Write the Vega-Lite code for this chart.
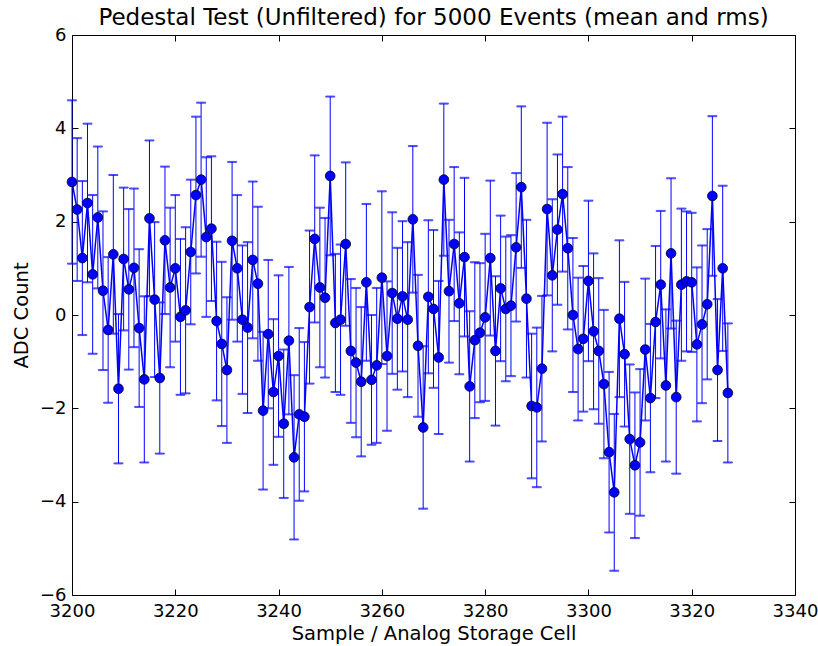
{
  "$schema": "https://vega.github.io/schema/vega-lite/v6.json",
  "width": 723,
  "height": 560,
  "autosize": "none",
  "padding": {"left": 72, "top": 35, "right": 23, "bottom": 51},
  "background": "white",
  "title": {"text": "Pedestal Test (Unfiltered) for 5000 Events (mean and rms)", "font": "DejaVu Sans", "fontSize": 23, "fontWeight": "normal", "color": "black", "offset": -4},
  "config": {
    "view": {"stroke": "black", "strokeWidth": 1},
    "rule": {"color": "#0000ff", "stroke": "#0000ff", "strokeWidth": 1},
    "tick": {"color": "#0000ff", "stroke": "#0000ff"},
    "errorbar": {"rule": {"color": "#0000ff", "stroke": "#0000ff"}, "ticks": {"color": "#0000ff", "stroke": "#0000ff"}},
    "axis": {"labelFont": "DejaVu Sans", "titleFont": "DejaVu Sans", "labelFontSize": 18, "titleFontSize": 19.5, "titleFontWeight": "normal", "labelColor": "black", "titleColor": "black", "tickColor": "black", "domain": false, "grid": false, "tickSize": -6, "tickWidth": 1, "labelFlush": false}
  },
  "data": {"values": [
{"x":3200,"y":2.85,"e":1.75},{"x":3201,"y":2.26,"e":1.53},{"x":3202,"y":1.22,"e":1.65},{"x":3203,"y":2.40,"e":1.70},{"x":3204,"y":0.87,"e":1.70},{"x":3205,"y":2.09,"e":1.52},{"x":3206,"y":0.52,"e":1.70},{"x":3207,"y":-0.32,"e":1.56},{"x":3208,"y":1.30,"e":1.70},{"x":3209,"y":-1.58,"e":1.60},
{"x":3210,"y":1.20,"e":1.53},{"x":3211,"y":0.55,"e":1.72},{"x":3212,"y":1.01,"e":1.70},{"x":3213,"y":-0.28,"e":1.69},{"x":3214,"y":-1.38,"e":1.78},{"x":3215,"y":2.07,"e":1.67},{"x":3216,"y":0.33,"e":1.66},{"x":3217,"y":-1.35,"e":1.62},{"x":3218,"y":1.60,"e":1.58},{"x":3219,"y":0.59,"e":1.71},
{"x":3220,"y":1.00,"e":1.57},{"x":3221,"y":-0.04,"e":1.67},{"x":3222,"y":0.10,"e":1.78},{"x":3223,"y":1.35,"e":1.55},{"x":3224,"y":2.57,"e":1.68},{"x":3225,"y":2.90,"e":1.65},{"x":3226,"y":1.67,"e":1.71},{"x":3227,"y":1.85,"e":1.55},{"x":3228,"y":-0.13,"e":1.70},{"x":3229,"y":-0.62,"e":1.76},
{"x":3230,"y":-1.18,"e":1.56},{"x":3231,"y":1.59,"e":1.69},{"x":3232,"y":1.00,"e":1.57},{"x":3233,"y":-0.10,"e":1.59},{"x":3234,"y":-0.27,"e":1.83},{"x":3235,"y":1.18,"e":1.68},{"x":3236,"y":0.67,"e":1.65},{"x":3237,"y":-2.05,"e":1.69},{"x":3238,"y":-0.41,"e":1.59},{"x":3239,"y":-1.65,"e":1.56},
{"x":3240,"y":-0.88,"e":1.73},{"x":3241,"y":-2.33,"e":1.59},{"x":3242,"y":-0.55,"e":1.58},{"x":3243,"y":-3.05,"e":1.76},{"x":3244,"y":-2.13,"e":1.85},{"x":3245,"y":-2.18,"e":1.60},{"x":3246,"y":0.17,"e":1.64},{"x":3247,"y":1.63,"e":1.79},{"x":3248,"y":0.59,"e":1.71},{"x":3249,"y":0.37,"e":1.71},
{"x":3250,"y":2.98,"e":1.70},{"x":3251,"y":-0.17,"e":1.48},{"x":3252,"y":-0.10,"e":1.61},{"x":3253,"y":1.52,"e":1.75},{"x":3254,"y":-0.77,"e":1.54},{"x":3255,"y":-1.02,"e":1.60},{"x":3256,"y":-1.43,"e":1.60},{"x":3257,"y":0.70,"e":1.68},{"x":3258,"y":-1.39,"e":1.39},{"x":3259,"y":-1.08,"e":1.66},
{"x":3260,"y":0.80,"e":1.85},{"x":3261,"y":-0.88,"e":1.60},{"x":3262,"y":0.47,"e":1.73},{"x":3263,"y":-0.08,"e":1.52},{"x":3264,"y":0.40,"e":1.61},{"x":3265,"y":-0.10,"e":1.66},{"x":3266,"y":2.05,"e":1.57},{"x":3267,"y":-0.66,"e":1.52},{"x":3268,"y":-2.41,"e":1.74},{"x":3269,"y":0.39,"e":1.64},
{"x":3270,"y":0.13,"e":1.69},{"x":3271,"y":-0.91,"e":1.64},{"x":3272,"y":2.90,"e":1.63},{"x":3273,"y":0.51,"e":1.53},{"x":3274,"y":1.52,"e":1.65},{"x":3275,"y":0.25,"e":1.52},{"x":3276,"y":1.24,"e":1.70},{"x":3277,"y":-1.53,"e":1.61},{"x":3278,"y":-0.54,"e":1.67},{"x":3279,"y":-0.38,"e":1.49},
{"x":3280,"y":-0.05,"e":1.79},{"x":3281,"y":1.22,"e":1.66},{"x":3282,"y":-0.77,"e":1.60},{"x":3283,"y":0.57,"e":1.56},{"x":3284,"y":0.13,"e":1.55},{"x":3285,"y":0.20,"e":1.51},{"x":3286,"y":1.45,"e":1.59},{"x":3287,"y":2.74,"e":1.73},{"x":3288,"y":0.35,"e":1.69},{"x":3289,"y":-1.95,"e":1.55},
{"x":3290,"y":-1.98,"e":1.71},{"x":3291,"y":-1.15,"e":1.56},{"x":3292,"y":2.27,"e":1.85},{"x":3293,"y":0.85,"e":1.63},{"x":3294,"y":1.83,"e":1.61},{"x":3295,"y":2.59,"e":1.66},{"x":3296,"y":1.43,"e":1.74},{"x":3297,"y":0.00,"e":1.65},{"x":3298,"y":-0.73,"e":1.53},{"x":3299,"y":-0.51,"e":1.56},
{"x":3300,"y":0.73,"e":1.72},{"x":3301,"y":-0.35,"e":1.67},{"x":3302,"y":-0.77,"e":1.56},{"x":3303,"y":-1.48,"e":1.59},{"x":3304,"y":-2.94,"e":1.72},{"x":3305,"y":-3.80,"e":1.68},{"x":3306,"y":-0.08,"e":1.68},{"x":3307,"y":-0.84,"e":1.55},{"x":3308,"y":-2.66,"e":1.60},{"x":3309,"y":-3.22,"e":1.56},
{"x":3310,"y":-2.73,"e":1.57},{"x":3311,"y":-0.74,"e":1.52},{"x":3312,"y":-1.78,"e":1.59},{"x":3313,"y":-0.15,"e":1.63},{"x":3314,"y":0.65,"e":1.58},{"x":3315,"y":-1.51,"e":1.63},{"x":3316,"y":1.32,"e":1.61},{"x":3317,"y":-1.76,"e":1.64},{"x":3318,"y":0.65,"e":1.63},{"x":3319,"y":0.72,"e":1.50},
{"x":3320,"y":0.70,"e":1.49},{"x":3321,"y":-0.63,"e":1.65},{"x":3322,"y":-0.20,"e":1.69},{"x":3323,"y":0.23,"e":1.61},{"x":3324,"y":2.55,"e":1.71},{"x":3325,"y":-1.18,"e":1.52},{"x":3326,"y":1.00,"e":1.77},{"x":3327,"y":-1.67,"e":1.49}
  ]},
  "resolve": {"axis": {"x": "independent", "y": "independent"}},
  "layer": [
    {
      "mark": {"type": "errorbar", "color": "#0000ff", "ticks": {"size": 9, "thickness": 1, "color": "#0000ff", "stroke": "#0000ff"}, "rule": {"strokeWidth": 1, "color": "#0000ff", "stroke": "#0000ff"}},
      "encoding": {
        "x": {"field": "x", "type": "quantitative", "scale": {"domain": [3200, 3340], "nice": false, "zero": false, "padding": 0}, "axis": {"orient": "bottom", "title": "Sample / Analog Storage Cell", "values": [3200,3220,3240,3260,3280,3300,3320,3340], "format": "d", "labelPadding": 13, "titlePadding": 4}},
        "y": {"field": "y", "type": "quantitative", "scale": {"domain": [-6, 6], "nice": false, "zero": false, "padding": 0}, "axis": {"orient": "left", "title": "ADC Count", "values": [-6,-4,-2,0,2,4,6], "labelPadding": 12, "titlePadding": 8}},
        "yError": {"field": "e"}
      }
    },
    {
      "mark": {"type": "line", "color": "#0000ff", "strokeWidth": 1.5},
      "encoding": {
        "x": {"field": "x", "type": "quantitative", "scale": {"domain": [3200, 3340], "nice": false, "zero": false, "padding": 0}, "axis": {"orient": "top", "title": null, "labels": false, "values": [3200,3220,3240,3260,3280,3300,3320,3340]}},
        "y": {"field": "y", "type": "quantitative", "scale": {"domain": [-6, 6], "nice": false, "zero": false, "padding": 0}, "axis": {"orient": "right", "title": null, "labels": false, "values": [-6,-4,-2,0,2,4,6]}}
      }
    },
    {
      "mark": {"type": "circle", "color": "#0000ff", "opacity": 1, "size": 95, "stroke": "#000022", "strokeWidth": 0.8},
      "encoding": {
        "x": {"field": "x", "type": "quantitative", "scale": {"domain": [3200, 3340], "nice": false, "zero": false, "padding": 0}, "axis": null},
        "y": {"field": "y", "type": "quantitative", "scale": {"domain": [-6, 6], "nice": false, "zero": false, "padding": 0}, "axis": null}
      }
    }
  ]
}
